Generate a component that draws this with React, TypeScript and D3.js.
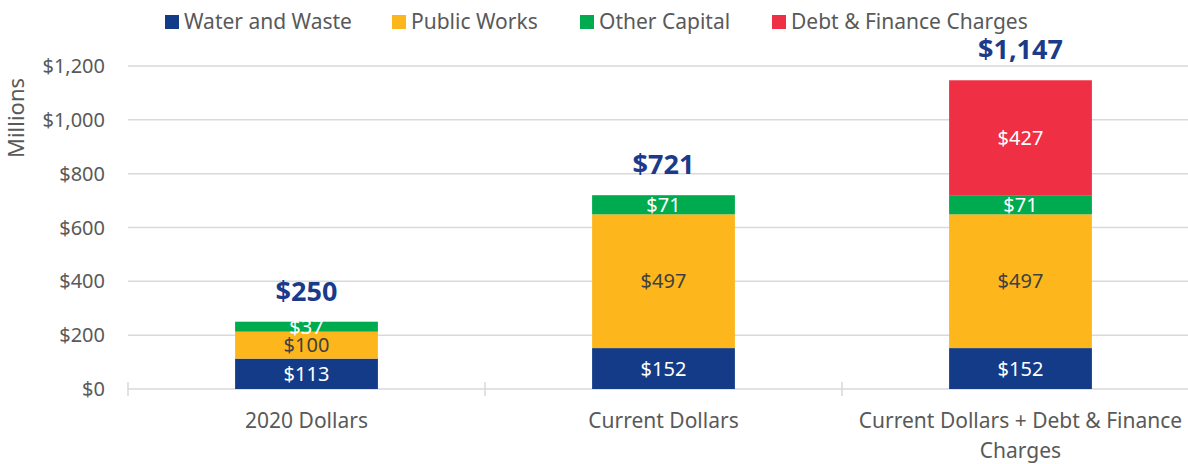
import React, { useEffect, useRef } from 'react';
import * as d3 from 'd3';

const categories = ['2020 Dollars', 'Current Dollars', 'Current Dollars + Debt & Finance Charges'];
const seriesNames = ['Water and Waste', 'Public Works', 'Other Capital', 'Debt & Finance Charges'];
const waterWaste = [113, 152, 152];
const publicWorks = [100, 497, 497];
const otherCapital = [37, 71, 71];
const debtFinance = [0, 0, 427];
const totals = [250, 721, 1147];
const yTicks = [0, 200, 400, 600, 800, 1000, 1200];

const colors = ['#133B87', '#FDB71D', '#00AB4F', '#EF3044'];
const labelColors = ['#ffffff', '#404040', '#ffffff', '#ffffff'];

const FONT = '"Noto Sans", sans-serif';

const App = () => {
  const container = useRef(null);

  useEffect(() => {
    createChart();
  }, []);

  const createChart = () => {
    const width = 1188;
    const height = 464;
    const margins = { l: 128, t: 66, b: 75, r: -11 };
    const plotheight = height - margins.t - margins.b;

    const xScale = d3
      .scaleBand()
      .domain(categories)
      .range([margins.l, width - margins.r])
      .paddingInner(0.6)
      .paddingOuter(0.3);

    const yScale = d3
      .scaleLinear()
      .domain([0, 1200])
      .range([margins.t + plotheight, margins.t]);

    const rows = categories.map((c, i) => ({
      cat: c,
      0: waterWaste[i],
      1: publicWorks[i],
      2: otherCapital[i],
      3: debtFinance[i]
    }));
    const stack = d3.stack().keys([0, 1, 2, 3])(rows);

    const svg = d3
      .select(container.current)
      .selectAll('svg')
      .data([0])
      .join('svg')
      .attr('width', width)
      .attr('height', height)
      .style('position', 'absolute')
      .style('left', 0)
      .style('top', 0)
      .style('font-family', FONT);

    svg.selectAll('*').remove();

    // gridlines
    svg
      .append('g')
      .selectAll('line')
      .data(yTicks)
      .join('line')
      .attr('x1', margins.l)
      .attr('x2', width)
      .attr('y1', d => yScale(d))
      .attr('y2', d => yScale(d))
      .attr('stroke', '#d9d9d9')
      .attr('stroke-width', 1.5);

    // category ticks
    const step = xScale.step();
    svg
      .append('g')
      .selectAll('line')
      .data([0, 1, 2])
      .join('line')
      .attr('x1', d => margins.l + d * step)
      .attr('x2', d => margins.l + d * step)
      .attr('y1', yScale(0) - 7)
      .attr('y2', yScale(0) + 7)
      .attr('stroke', '#d9d9d9')
      .attr('stroke-width', 1.5);

    // y tick labels
    svg
      .append('g')
      .selectAll('text')
      .data(yTicks)
      .join('text')
      .attr('x', 105)
      .attr('y', d => yScale(d))
      .attr('dy', '0.35em')
      .attr('text-anchor', 'end')
      .attr('font-size', 20)
      .attr('fill', '#595959')
      .text(d => d3.format('$,')(d));

    svg
      .append('text')
      .attr('transform', `translate(24, 118) rotate(-90)`)
      .attr('text-anchor', 'middle')
      .attr('font-size', 22)
      .attr('fill', '#595959')
      .text('Millions');

    // bars
    const layers = svg
      .append('g')
      .selectAll('g')
      .data(stack)
      .join('g')
      .attr('fill', (d, i) => colors[i]);

    layers
      .selectAll('rect')
      .data(d => d.filter(s => s[1] - s[0] > 0))
      .join('rect')
      .attr('x', d => xScale(d.data.cat))
      .attr('y', d => yScale(d[1]))
      .attr('width', xScale.bandwidth())
      .attr('height', d => yScale(d[0]) - yScale(d[1]));

    // segment labels
    stack.forEach((layer, i) => {
      svg
        .append('g')
        .selectAll('text')
        .data(layer.filter(s => s[1] - s[0] > 0))
        .join('text')
        .attr('x', d => xScale(d.data.cat) + xScale.bandwidth() / 2)
        .attr('y', d => yScale((d[0] + d[1]) / 2))
        .attr('dy', '0.36em')
        .attr('text-anchor', 'middle')
        .attr('font-size', 20)
        .attr('fill', labelColors[i])
        .text(d => '$' + (d[1] - d[0]));
    });

    // totals
    svg
      .append('g')
      .selectAll('text')
      .data(totals)
      .join('text')
      .attr('x', (d, i) => xScale(categories[i]) + xScale.bandwidth() / 2)
      .attr('y', d => yScale(d) - 21)
      .attr('text-anchor', 'middle')
      .attr('font-size', 27)
      .attr('font-weight', 'bold')
      .attr('fill', '#1C3A8A')
      .text(d => d3.format('$,')(d));

    // category labels with wrapping
    const catText = svg
      .append('g')
      .selectAll('text')
      .data(categories)
      .join('text')
      .attr('text-anchor', 'middle')
      .attr('font-size', 21)
      .attr('fill', '#595959')
      .attr('x', d => xScale(d) + xScale.bandwidth() / 2)
      .attr('y', 428);

    catText.each(function (d) {
      const t = d3.select(this);
      const words = d.split(' ');
      let line = [];
      let tspan = t.append('tspan').attr('x', t.attr('x')).attr('dy', 0);
      words.forEach(w => {
        line.push(w);
        tspan.text(line.join(' '));
        if (tspan.node().getComputedTextLength() > step - 10 && line.length > 1) {
          line.pop();
          tspan.text(line.join(' '));
          line = [w];
          tspan = t.append('tspan').attr('x', t.attr('x')).attr('dy', 30).text(w);
        }
      });
    });

    // legend
    const legendX = [165, 392, 580, 772];
    const legend = svg
      .append('g')
      .selectAll('g')
      .data(seriesNames)
      .join('g')
      .attr('transform', (d, i) => `translate(${legendX[i]}, 15)`);
    legend
      .append('rect')
      .attr('width', 14)
      .attr('height', 14)
      .attr('fill', (d, i) => colors[i]);
    legend
      .append('text')
      .attr('x', 19)
      .attr('y', 14)
      .attr('font-size', 21)
      .attr('fill', '#595959')
      .text(d => d);
  };

  return <div ref={container}></div>;
};

export default App;
